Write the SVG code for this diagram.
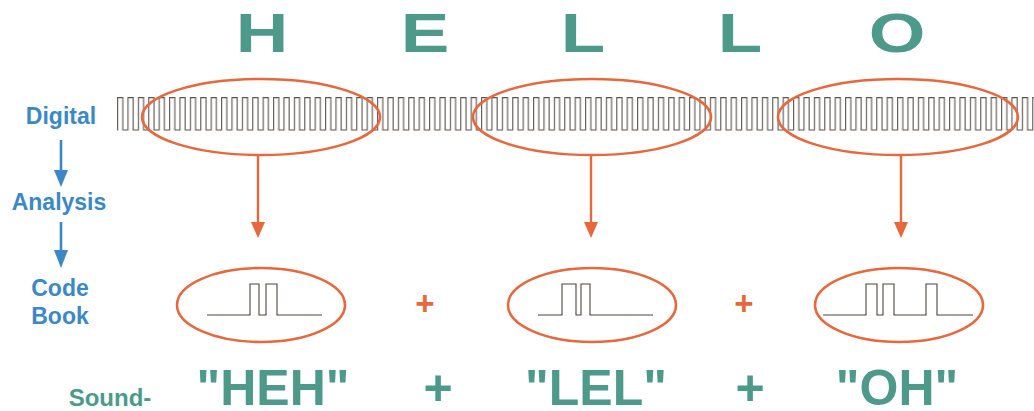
<svg xmlns="http://www.w3.org/2000/svg" width="1034" height="411" viewBox="0 0 1034 411">
<style>
.lbl{font-family:"Liberation Sans",Arial,sans-serif;font-weight:bold;fill:#3b88c4;font-size:23px;text-anchor:middle}
.big{font-family:"Liberation Sans",Arial,sans-serif;font-weight:bold;fill:#4d9a8b;text-anchor:middle}
.ell{fill:none;stroke:#e6683c;stroke-width:2.6}
.oline{stroke:#e6683c;stroke-width:2.4;fill:none}
.ohead{fill:#e6683c}
.bline{stroke:#3b88c4;stroke-width:2.6;fill:none}
.bhead{fill:#3b88c4}
.wave{fill:none;stroke:#4a4440;stroke-width:1.1}
.plus{font-family:"Liberation Sans",Arial,sans-serif;font-weight:bold;fill:#e6683c;font-size:33px;text-anchor:middle}
</style>
<defs>
<pattern id="sq" x="117" y="97" width="10.4" height="34" patternUnits="userSpaceOnUse">
<path d="M0,33 H0.6 V0.6 H5.8 V33 H10.4" fill="none" stroke="#5a5450" stroke-width="1.1"/>
</pattern>
</defs>
<rect width="1034" height="411" fill="#ffffff"/>
<g id="title">
<text class="big" font-size="56" transform="translate(262,52) scale(1.3,1)">H</text>
<text class="big" font-size="56" transform="translate(425,52) scale(1.3,1)">E</text>
<text class="big" font-size="56" transform="translate(583,52) scale(1.3,1)">L</text>
<text class="big" font-size="56" transform="translate(740,52) scale(1.3,1)">L</text>
<text class="big" font-size="56" transform="translate(897,52) scale(1.3,1)">O</text>
</g>
<g id="digital-signal">
<rect x="117" y="97" width="917" height="34" fill="url(#sq)"/>
</g>
<g id="labels">
<text class="lbl" x="61" y="124">Digital</text>
<text class="lbl" x="59" y="210">Analysis</text>
<text class="lbl" x="60" y="296">Code</text>
<text class="lbl" x="60" y="324">Book</text>
<text class="big" font-size="24" x="110" y="406">Sound-</text>
</g>
<g id="segment-1">
<ellipse class="ell" cx="261" cy="117" rx="119" ry="38"/>
</g>
<g id="segment-2">
<ellipse class="ell" cx="592" cy="117" rx="119" ry="38"/>
</g>
<g id="segment-3">
<ellipse class="ell" cx="898" cy="117" rx="120" ry="38"/>
</g>
<g id="code-1">
<ellipse class="ell" cx="261" cy="305" rx="84" ry="37"/>
<path class="wave" d="M207,315 H250 V284 H259 V315 H266 V284 H277 V315 H322"/>
</g>
<g id="code-2">
<ellipse class="ell" cx="592" cy="305" rx="84" ry="37"/>
<path class="wave" d="M538,315 H562 V284 H576 V315 H581 V284 H590 V315 H653"/>
</g>
<g id="code-3">
<ellipse class="ell" cx="899" cy="305" rx="84" ry="37"/>
<path class="wave" d="M823,315 H866 V284 H877 V315 H883 V284 H894 V315 H926 V284 H937 V315 H973"/>
</g>
<g id="connectors">
<line class="oline" x1="258" y1="155" x2="258" y2="224"/>
<polygon class="ohead" points="251,222 265,222 258,238"/>
<line class="oline" x1="591" y1="155" x2="591" y2="224"/>
<polygon class="ohead" points="584,222 598,222 591,238"/>
<line class="oline" x1="901" y1="155" x2="901" y2="224"/>
<polygon class="ohead" points="894,222 908,222 901,238"/>
<line class="bline" x1="61" y1="140" x2="61" y2="172"/>
<polygon class="bhead" points="54,170 68,170 61,187"/>
<line class="bline" x1="61" y1="222" x2="61" y2="252"/>
<polygon class="bhead" points="54,250 68,250 61,268"/>
</g>
<g id="operators">
<text class="plus" x="425" y="315">+</text>
<text class="plus" x="744" y="315">+</text>
</g>
<g id="result">
<text class="big" font-size="50" x="273" y="405">"HEH"</text>
<text class="big" font-size="50" x="438" y="405">+</text>
<text class="big" font-size="50" x="596" y="405">"LEL"</text>
<text class="big" font-size="50" x="750" y="405">+</text>
<text class="big" font-size="50" x="897" y="405">"OH"</text>
</g>
</svg>
